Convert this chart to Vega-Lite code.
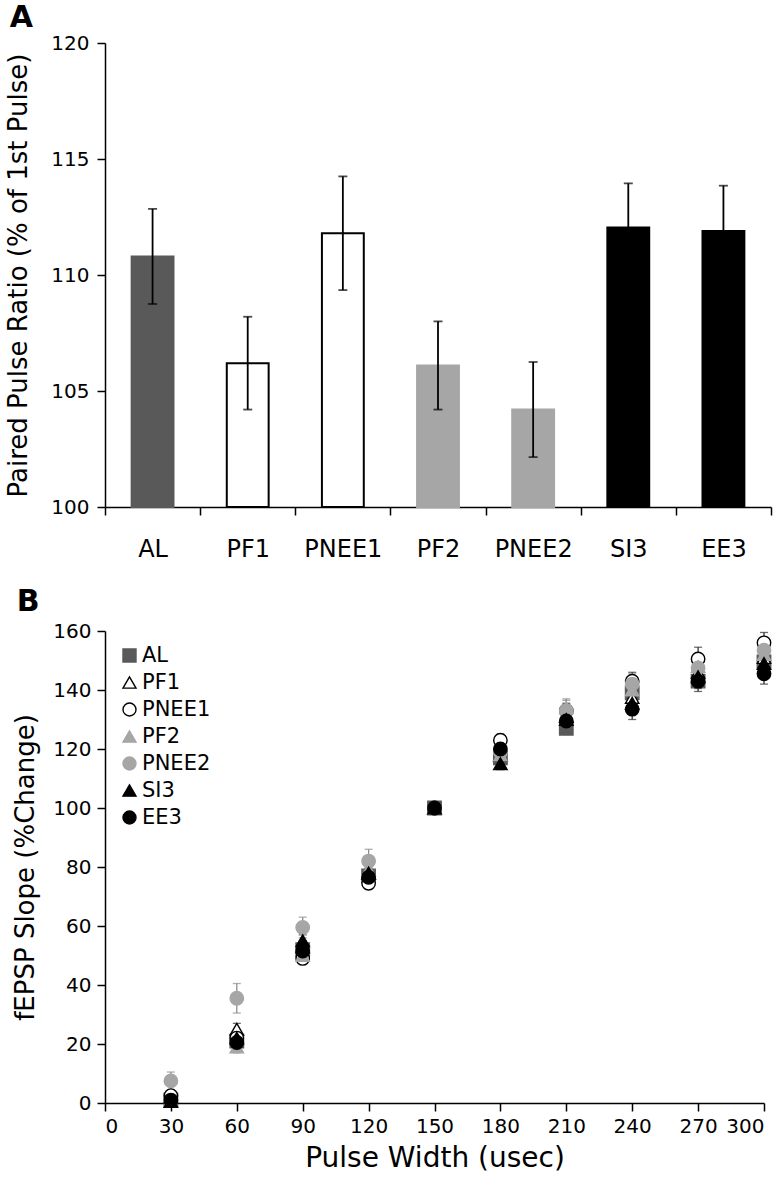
{
  "$schema": "https://vega.github.io/schema/vega-lite/v6.json",
  "padding": {"left": 5, "top": 3, "right": 8, "bottom": 3},
  "background": "white",
  "spacing": 26,
  "config": {
    "font": "DejaVu Sans",
    "view": {"stroke": null},
    "axis": {
      "domainColor": "black", "tickColor": "black", "labelColor": "black", "titleColor": "black",
      "domainWidth": 1.5, "tickWidth": 1.5, "tickSize": 8, "grid": false,
      "labelFont": "DejaVu Sans", "titleFont": "DejaVu Sans", "titleFontWeight": "normal"
    },
    "legend": {"labelFont": "DejaVu Sans"},
    "title": {"font": "DejaVu Sans", "fontWeight": "bold", "fontSize": 30, "anchor": "start", "frame": "bounds", "color": "black"}
  },
  "resolve": {
    "scale": {"fill": "independent", "stroke": "independent", "shape": "independent", "color": "independent"},
    "legend": {"fill": "independent", "stroke": "independent", "shape": "independent", "color": "independent"}
  },
  "vconcat": [
    {
      "title": {"text": "A", "offset": 0, "dx": 4},
      "width": 666,
      "height": 464,
      "data": {"values": [
        {"g": "AL", "v": 110.8, "e": 2.05},
        {"g": "PF1", "v": 106.2, "e": 2.0},
        {"g": "PNEE1", "v": 111.8, "e": 2.45},
        {"g": "PF2", "v": 106.1, "e": 1.9},
        {"g": "PNEE2", "v": 104.2, "e": 2.05},
        {"g": "SI3", "v": 112.05, "e": 1.9},
        {"g": "EE3", "v": 111.9, "e": 1.95}
      ]},
      "layer": [
        {
          "mark": {"type": "bar", "strokeWidth": 2, "width": {"band": 0.44}},
          "encoding": {
            "x": {"field": "g", "type": "nominal", "sort": null,
              "scale": {"paddingInner": 0, "paddingOuter": 0},
              "axis": {"title": null, "labelAngle": 0, "labelFontSize": 24, "labelPadding": 22, "tickBand": "extent"}},
            "y": {"field": "v", "type": "quantitative",
              "scale": {"domain": [100, 120], "nice": false, "zero": false},
              "axis": {"values": [100, 105, 110, 115, 120], "title": "Paired Pulse Ratio (% of 1st Pulse)", "labelFontSize": 20, "labelPadding": 8, "titleFontSize": 26, "titlePadding": 19}},
            "y2": {"datum": 100},
            "fill": {"field": "g", "type": "nominal", "legend": null,
              "scale": {"domain": ["AL", "PF1", "PNEE1", "PF2", "PNEE2", "SI3", "EE3"],
                "range": ["#595959", "white", "white", "#a6a6a6", "#a6a6a6", "black", "black"]}},
            "stroke": {"field": "g", "type": "nominal", "legend": null,
              "scale": {"domain": ["AL", "PF1", "PNEE1", "PF2", "PNEE2", "SI3", "EE3"],
                "range": ["#595959", "black", "black", "#a6a6a6", "#a6a6a6", "black", "black"]}}
          }
        },
        {
          "mark": {"type": "errorbar", "color": "black", "thickness": 1.8, "ticks": {"size": 9, "color": "black", "thickness": 1.8}},
          "encoding": {
            "x": {"field": "g", "type": "nominal", "sort": null},
            "y": {"field": "v", "type": "quantitative", "title": "Paired Pulse Ratio (% of 1st Pulse)"},
            "yError": {"field": "e"}
          }
        }
      ]
    },
    {
      "title": {"text": "B", "offset": 4, "dx": 4},
      "width": 659,
      "height": 472,
      "data": {"values": [
        {"g": "AL", "x": 30, "y": 1, "e": 1.5},
        {"g": "AL", "x": 60, "y": 21, "e": 2},
        {"g": "AL", "x": 90, "y": 52, "e": 2.5},
        {"g": "AL", "x": 120, "y": 77, "e": 2.5},
        {"g": "AL", "x": 150, "y": 100, "e": 0},
        {"g": "AL", "x": 180, "y": 117, "e": 2},
        {"g": "AL", "x": 210, "y": 127, "e": 2},
        {"g": "AL", "x": 240, "y": 139, "e": 2.5},
        {"g": "AL", "x": 270, "y": 143, "e": 2.5},
        {"g": "AL", "x": 300, "y": 149.5, "e": 3},
        {"g": "PF1", "x": 30, "y": 2, "e": 1.5},
        {"g": "PF1", "x": 60, "y": 25, "e": 2},
        {"g": "PF1", "x": 90, "y": 53, "e": 2},
        {"g": "PF1", "x": 120, "y": 78, "e": 2.5},
        {"g": "PF1", "x": 150, "y": 100, "e": 0},
        {"g": "PF1", "x": 180, "y": 118, "e": 2},
        {"g": "PF1", "x": 210, "y": 131, "e": 2.5},
        {"g": "PF1", "x": 240, "y": 137.5, "e": 2.5},
        {"g": "PF1", "x": 270, "y": 146, "e": 3},
        {"g": "PF1", "x": 300, "y": 151, "e": 3},
        {"g": "PNEE1", "x": 30, "y": 2.5, "e": 1.5},
        {"g": "PNEE1", "x": 60, "y": 22, "e": 2},
        {"g": "PNEE1", "x": 90, "y": 49, "e": 2},
        {"g": "PNEE1", "x": 120, "y": 74.5, "e": 2},
        {"g": "PNEE1", "x": 150, "y": 100, "e": 0},
        {"g": "PNEE1", "x": 180, "y": 123, "e": 2},
        {"g": "PNEE1", "x": 210, "y": 133, "e": 2.5},
        {"g": "PNEE1", "x": 240, "y": 143, "e": 3},
        {"g": "PNEE1", "x": 270, "y": 150.5, "e": 4},
        {"g": "PNEE1", "x": 300, "y": 156, "e": 3.5},
        {"g": "PF2", "x": 30, "y": 0.5, "e": 1.5},
        {"g": "PF2", "x": 60, "y": 19, "e": 2},
        {"g": "PF2", "x": 90, "y": 50, "e": 2},
        {"g": "PF2", "x": 120, "y": 79, "e": 2.5},
        {"g": "PF2", "x": 150, "y": 100, "e": 0},
        {"g": "PF2", "x": 180, "y": 118, "e": 2},
        {"g": "PF2", "x": 210, "y": 134, "e": 2.5},
        {"g": "PF2", "x": 240, "y": 140, "e": 2.5},
        {"g": "PF2", "x": 270, "y": 148, "e": 3},
        {"g": "PF2", "x": 300, "y": 152, "e": 3},
        {"g": "PNEE2", "x": 30, "y": 7.5, "e": 3},
        {"g": "PNEE2", "x": 60, "y": 35.5, "e": 5},
        {"g": "PNEE2", "x": 90, "y": 59.5, "e": 3.5},
        {"g": "PNEE2", "x": 120, "y": 82, "e": 4},
        {"g": "PNEE2", "x": 150, "y": 100, "e": 0},
        {"g": "PNEE2", "x": 180, "y": 119, "e": 2},
        {"g": "PNEE2", "x": 210, "y": 133, "e": 4},
        {"g": "PNEE2", "x": 240, "y": 142, "e": 3.5},
        {"g": "PNEE2", "x": 270, "y": 147.5, "e": 3},
        {"g": "PNEE2", "x": 300, "y": 153.5, "e": 3},
        {"g": "SI3", "x": 30, "y": 0.5, "e": 1.5},
        {"g": "SI3", "x": 60, "y": 22, "e": 2},
        {"g": "SI3", "x": 90, "y": 55, "e": 2},
        {"g": "SI3", "x": 120, "y": 78, "e": 2},
        {"g": "SI3", "x": 150, "y": 100, "e": 0},
        {"g": "SI3", "x": 180, "y": 115, "e": 2},
        {"g": "SI3", "x": 210, "y": 130, "e": 2.5},
        {"g": "SI3", "x": 240, "y": 135.5, "e": 3},
        {"g": "SI3", "x": 270, "y": 144.5, "e": 3},
        {"g": "SI3", "x": 300, "y": 149, "e": 3},
        {"g": "EE3", "x": 30, "y": 1, "e": 1.5},
        {"g": "EE3", "x": 60, "y": 20.5, "e": 2},
        {"g": "EE3", "x": 90, "y": 51.5, "e": 2},
        {"g": "EE3", "x": 120, "y": 76.5, "e": 2},
        {"g": "EE3", "x": 150, "y": 100, "e": 0},
        {"g": "EE3", "x": 180, "y": 120, "e": 2},
        {"g": "EE3", "x": 210, "y": 129.5, "e": 2.5},
        {"g": "EE3", "x": 240, "y": 133.5, "e": 3.5},
        {"g": "EE3", "x": 270, "y": 143, "e": 3.5},
        {"g": "EE3", "x": 300, "y": 145.5, "e": 3.5}
      ]},
      "layer": [
        {
          "transform": [{"filter": "datum.g !== 'PNEE2' && datum.g !== 'PF2'"}],
          "mark": {"type": "errorbar", "color": "#303030", "thickness": 1.3, "ticks": {"size": 8, "thickness": 1.3, "color": "#303030"}},
          "encoding": {
            "x": {"field": "x", "type": "quantitative"},
            "y": {"field": "y", "type": "quantitative", "title": "fEPSP Slope (%Change)"},
            "yError": {"field": "e"}
          }
        },
        {
          "transform": [{"filter": "datum.g === 'PNEE2' || datum.g === 'PF2'"}],
          "mark": {"type": "errorbar", "color": "#8c8c8c", "thickness": 1.3, "ticks": {"size": 8, "thickness": 1.3, "color": "#8c8c8c"}},
          "encoding": {
            "x": {"field": "x", "type": "quantitative"},
            "y": {"field": "y", "type": "quantitative", "title": "fEPSP Slope (%Change)"},
            "yError": {"field": "e"}
          }
        },
        {
          "mark": {"type": "point", "size": 180, "strokeWidth": 1.4, "opacity": 1, "fillOpacity": 1, "strokeOpacity": 1},
          "encoding": {
            "x": {"field": "x", "type": "quantitative",
              "scale": {"domain": [0, 300], "nice": false},
              "axis": {"values": [0, 30, 60, 90, 120, 150, 180, 210, 240, 270, 300], "title": "Pulse Width (usec)", "labelFontSize": 20, "labelPadding": 5, "titleFontSize": 28, "titlePadding": 8}},
            "y": {"field": "y", "type": "quantitative",
              "scale": {"domain": [0, 160], "nice": false},
              "axis": {"values": [0, 20, 40, 60, 80, 100, 120, 140, 160], "title": "fEPSP Slope (%Change)", "labelFontSize": 20, "labelPadding": 6, "titleFontSize": 26, "titlePadding": 14}},
            "shape": {"field": "g", "type": "nominal", "title": null,
              "scale": {"domain": ["AL", "PF1", "PNEE1", "PF2", "PNEE2", "SI3", "EE3"],
                "range": ["square", "triangle-up", "circle", "triangle-up", "circle", "triangle-up", "circle"]},
              "legend": {"orient": "top-left", "offset": 8, "padding": 6, "labelFontSize": 21, "labelColor": "black", "symbolSize": 170, "symbolStrokeWidth": 1.4, "rowPadding": 5, "labelOffset": 2}},
            "fill": {"field": "g", "type": "nominal", "title": null,
              "scale": {"domain": ["AL", "PF1", "PNEE1", "PF2", "PNEE2", "SI3", "EE3"],
                "range": ["#595959", "white", "white", "#a6a6a6", "#a6a6a6", "black", "black"]}},
            "stroke": {"field": "g", "type": "nominal", "title": null,
              "scale": {"domain": ["AL", "PF1", "PNEE1", "PF2", "PNEE2", "SI3", "EE3"],
                "range": ["#595959", "black", "black", "#a6a6a6", "#a6a6a6", "black", "black"]}}
          }
        }
      ]
    }
  ]
}
